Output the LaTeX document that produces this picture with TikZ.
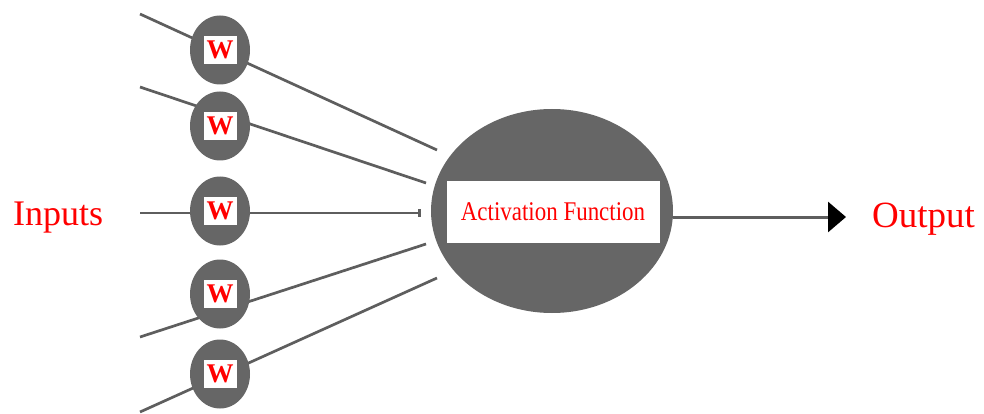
\documentclass[tikz,border=0pt]{standalone}
\usepackage{fontspec}
\setmainfont{Liberation Serif}
\usetikzlibrary{shapes.geometric,arrows.meta,backgrounds}
\definecolor{cellgray}{HTML}{666666}
\definecolor{wiregray}{HTML}{5E5E5E}
\begin{document}
\begin{tikzpicture}[
	x=1pt,y=-1pt,
	>={Triangle[length=18pt,width=30pt,black]},
	line cap=round,
	line join=round,
	wire/.style={draw=wiregray,line width=2.7pt},
	weight/.style={ellipse,fill=cellgray,minimum width=60pt,minimum height=69pt,inner sep=0pt},
	wbox/.style={rectangle,fill=white,minimum width=33pt,minimum height=28pt,inner sep=0pt,
		text=red,font=\fontsize{27}{27}\selectfont\bfseries},
	label/.style={text=red,inner sep=0pt,font=\fontsize{36}{36}\selectfont}
	]
	\useasboundingbox (0,0) rectangle (984,414);
	% neuron
	\node[ellipse,fill=cellgray,minimum width=242pt,minimum height=204pt,inner sep=0pt] (neuron) at (552,211) {};
	\node[rectangle,fill=white,minimum width=213pt,minimum height=62pt,inner sep=0pt] (act) at (553,212)
		{\scalebox{0.85}[1]{\textcolor{red}{\fontsize{27}{27}\selectfont Activation Function}}};
	% weights
	\foreach \y [count=\i] in {50,126,211,294,374} {
		\node[weight] (w\i) at (220,\y) {};
		\node[wbox] (b\i) at (w\i.center) {W};
	}
	\coordinate (in1) at (140,14);   \coordinate (e1) at (437,150);
	\coordinate (in2) at (140,87);   \coordinate (e2) at (426,183);
	\coordinate (in3) at (140,213);  \coordinate (e3) at (421,213);
	\coordinate (in4) at (140,337);  \coordinate (e4) at (426,244);
	\coordinate (in5) at (140,412);  \coordinate (e5) at (437,278);
	\begin{scope}[on background layer]
		\foreach \i in {1,2,4,5}
			\draw[wire] (in\i) -- (e\i);
		\draw[wire,-{Rectangle[length=3pt,width=8pt,wiregray]}] (in3) -- (e3);
	\end{scope}
	% output
	\coordinate (oend) at (846,217);
	\draw[wire,line width=3pt,->] (neuron.east |- oend) -- (oend);
	\node[label,anchor=base west] (inputs) at (13,225) {Inputs};
	\node[label,anchor=base west,font=\fontsize{37}{37}\selectfont] (output) at (872,227) {Output};
\end{tikzpicture}
\end{document}
